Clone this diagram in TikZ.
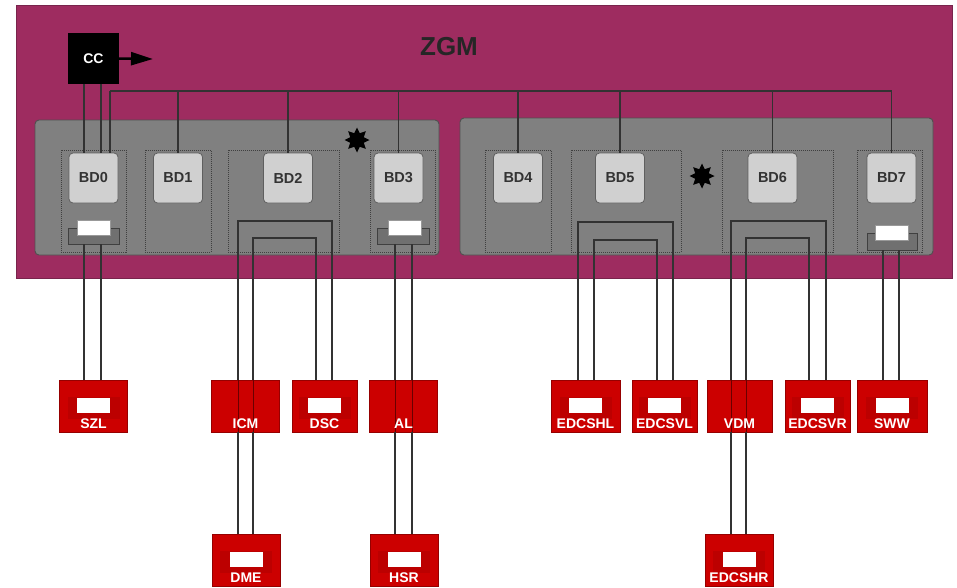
\documentclass[tikz,border=0pt]{standalone}
\usepackage{fontspec}
\setmainfont{Liberation Sans}
\usetikzlibrary{shapes.geometric,arrows.meta,calc}
\definecolor{zgmc}{RGB}{158,44,96}
\definecolor{zgmb}{RGB}{120,36,76}
\definecolor{panelc}{RGB}{128,128,128}
\definecolor{panelb}{RGB}{80,80,80}
\definecolor{bdc}{RGB}{208,208,208}
\definecolor{bdb}{RGB}{95,95,95}
\definecolor{redc}{RGB}{204,0,0}
\definecolor{redb}{RGB}{150,0,0}
\definecolor{redin}{RGB}{188,0,0}
\definecolor{wirec}{RGB}{50,50,50}
\definecolor{brkc}{RGB}{112,112,112}
\tikzset{
  bdbox/.style={draw=bdb, fill=bdc, rounded corners=4pt, line width=0.8pt, minimum width=49pt, minimum height=50pt, inner sep=0pt, font=\bfseries\fontsize{14.5}{14.5}\selectfont, text=black!80},
  subbox/.style={draw=black!75, dash pattern=on 1pt off 1pt, line width=0.7pt, minimum height=102pt, inner sep=0pt},
  panel/.style={draw=panelb, fill=panelc, rounded corners=4pt, line width=0.9pt, inner sep=0pt},
  redbox/.style={draw=redb, fill=redc, line width=0.8pt, minimum width=68pt, minimum height=52pt, inner sep=0pt},
  rlabel/.style={text=white, font=\bfseries\fontsize{14}{14}\selectfont, inner sep=0pt},
  wrect/.style={fill=white, draw=black!40, line width=0.3pt, minimum width=33pt, minimum height=15pt, inner sep=0pt},
  rbrk/.style={fill=redin, minimum width=52pt, minimum height=22pt, inner sep=0pt},
  gbrk/.style={fill=brkc, draw=black!75, line width=0.8pt, minimum height=16pt, inner sep=0pt},
  wire/.style={draw=wirec, line width=1.3pt},
  wirein/.style={draw=redb!70!black, line width=1pt},
  burst/.style={star, star points=8, star point ratio=1.7, fill=black, minimum size=25pt, inner sep=0pt}
}
\begin{document}
\begin{tikzpicture}[x=1pt,y=-1pt]
\useasboundingbox (0,0) rectangle (957,587);
\fill[white] (0,0) rectangle (957,587);
% ZGM frame
\node[draw=zgmb, fill=zgmc, line width=1pt, minimum width=936pt, minimum height=273pt, inner sep=0pt] (zgm) at (484,141.5) {};
\node[font=\bfseries\fontsize{26}{26}\selectfont, text=black!85] (zgmt) at (449,47) {ZGM};
% CC
\node[fill=black, minimum width=51pt, minimum height=51pt, inner sep=0pt, text=white, font=\bfseries\fontsize{14}{14}\selectfont] (cc) at (93.5,58.5) {CC};
\coordinate (ccout) at (153,59);
\draw[line width=2.5pt, -{Triangle[length=22pt,width=13pt]}] (cc.east) -- (ccout);
% panels
\node[panel, minimum width=404pt, minimum height=135pt] (pl) at (237,187.5) {};
\node[panel, minimum width=473pt, minimum height=137pt] (pr) at (696.5,186.5) {};
% sub boxes
\node[subbox, minimum width=65pt] (s0) at (93.5,201) {};
\node[subbox, minimum width=66pt] (s1) at (178,201) {};
\node[subbox, minimum width=111pt] (s2) at (283.5,201) {};
\node[subbox, minimum width=65pt] (s3) at (402.5,201) {};
\node[subbox, minimum width=66pt] (s4) at (518,201) {};
\node[subbox, minimum width=110pt] (s5) at (626,201) {};
\node[subbox, minimum width=111pt] (s6) at (777.5,201) {};
\node[subbox, minimum width=65pt] (s7) at (889.5,201) {};
% BD boxes
\node[bdbox] (bd0) at (93.5,178) {BD0};
\node[bdbox] (bd1) at (178,178) {BD1};
\node[bdbox] (bd2) at (288,178) {BD2};
\node[bdbox] (bd3) at (398.5,178) {BD3};
\node[bdbox] (bd4) at (518,178) {BD4};
\node[bdbox] (bd5) at (620,178) {BD5};
\node[bdbox] (bd6) at (772.5,178) {BD6};
\node[bdbox] (bd7) at (891.5,178) {BD7};
% stars
\node[burst] (st1) at (357,140) {};
\node[burst] (st2) at (702,176) {};
% brackets in BD0, BD3, BD7
\node[gbrk, minimum width=51pt] (g0) at (93.5,236) {};
\node[wrect] (w0) at (93.5,228) {};
\node[gbrk, minimum width=52pt] (g3) at (403,236) {};
\node[wrect] (w3) at (404.5,228) {};
\node[gbrk, minimum width=50pt, minimum height=17pt] (g7) at (892,241.5) {};
\node[wrect] (w7) at (891.5,233) {};
% bus
\coordinate (busL) at (110,91);
\coordinate (busR) at (891.5,91);
\draw[wire] (busL) -- (busR);
\draw[wire] (busL) -- (busL |- bd0.north);
\draw[wire] (busR) -- (bd7.north);
\foreach \b in {bd1,bd2,bd3,bd4,bd5,bd6} \draw[wire] (\b.north |- busL) -- (\b.north);
\draw[wire] (84,0 |- cc.south) -- (84,0 |- bd0.north);
\draw[wire] (101,0 |- cc.south) -- (101,0 |- bd0.north);
% red boxes row 1
\node[redbox] (szl) at (93.5,406) {};
\node[redbox] (icm) at (245.5,406) {};
\node[redbox, minimum width=65pt] (dsc) at (324.5,406) {};
\node[redbox] (al) at (403.5,406) {};
\node[redbox, minimum width=69pt] (edcshl) at (585.5,406) {};
\node[redbox, minimum width=65pt] (edcsvl) at (664.5,406) {};
\node[redbox, minimum width=65pt] (vdm) at (739.5,406) {};
\node[redbox, minimum width=65pt] (edcsvr) at (817.5,406) {};
\node[redbox, minimum width=70pt] (sww) at (892,406) {};
% row 2
\node[redbox] (dme) at (246,560) {};
\node[redbox] (hsr) at (404,560) {};
\node[redbox] (edcshr) at (739,560) {};
% inner brackets and white rects
\foreach \r in {szl,dsc,edcshl,edcsvl,edcsvr,sww,dme,hsr,edcshr} {
  \node[rbrk] at ($(\r.north)+(0,28)$) {};
  \node[wrect, draw=none] at ($(\r.north)+(0,25.5)$) {};
}
% BD0 -> SZL
\draw[wire] (84,0 |- g0.south) -- (84,0 |- szl.north);
\draw[wire] (101,0 |- g0.south) -- (101,0 |- szl.north);
% BD3 -> AL -> HSR
\foreach \x in {395,412} {
  \draw[wire] (\x,0 |- g3.south) -- (\x,0 |- al.north);
  \draw[wirein] (\x,0 |- al.north) -- (\x,0 |- al.south);
  \draw[wire] (\x,0 |- al.south) -- (\x,0 |- hsr.north);
}
% BD7 -> SWW
\draw[wire] (883,0 |- g7.south) -- (883,0 |- sww.north);
\draw[wire] (899,0 |- g7.south) -- (899,0 |- sww.north);
% BD2 U brackets
\coordinate (u2a) at (238,221);
\coordinate (u2b) at (332,221);
\coordinate (u2c) at (253,238);
\coordinate (u2d) at (316,238);
\draw[wire] (u2a |- icm.north) -- (u2a) -- (u2b) -- (u2b |- dsc.north);
\draw[wire] (u2c |- icm.north) -- (u2c) -- (u2d) -- (u2d |- dsc.north);
\foreach \c in {u2a,u2c} {
  \draw[wirein] (\c |- icm.north) -- (\c |- icm.south);
  \draw[wire] (\c |- icm.south) -- (\c |- dme.north);
}
% BD5 U brackets
\coordinate (u5a) at (578,222);
\coordinate (u5b) at (673,222);
\coordinate (u5c) at (594,240);
\coordinate (u5d) at (657,240);
\draw[wire] (u5a |- edcshl.north) -- (u5a) -- (u5b) -- (u5b |- edcsvl.north);
\draw[wire] (u5c |- edcshl.north) -- (u5c) -- (u5d) -- (u5d |- edcsvl.north);
% BD6 U brackets
\coordinate (u6a) at (731,221);
\coordinate (u6b) at (826,221);
\coordinate (u6c) at (746,238);
\coordinate (u6d) at (809,238);
\draw[wire] (u6a |- vdm.north) -- (u6a) -- (u6b) -- (u6b |- edcsvr.north);
\draw[wire] (u6c |- vdm.north) -- (u6c) -- (u6d) -- (u6d |- edcsvr.north);
\foreach \c in {u6a,u6c} {
  \draw[wirein] (\c |- vdm.north) -- (\c |- vdm.south);
  \draw[wire] (\c |- vdm.south) -- (\c |- edcshr.north);
}
% labels
\node[rlabel] (lszl) at ($(szl.south)+(0,-8.5)$) {SZL};
\node[rlabel] (licm) at ($(icm.south)+(0,-8.5)$) {ICM};
\node[rlabel] (ldsc) at ($(dsc.south)+(0,-8.5)$) {DSC};
\node[rlabel] (lal) at ($(al.south)+(0,-8.5)$) {AL};
\node[rlabel] (ledcshl) at ($(edcshl.south)+(0,-8.5)$) {EDCSHL};
\node[rlabel] (ledcsvl) at ($(edcsvl.south)+(0,-8.5)$) {EDCSVL};
\node[rlabel] (lvdm) at ($(vdm.south)+(0,-8.5)$) {VDM};
\node[rlabel] (ledcsvr) at ($(edcsvr.south)+(0,-8.5)$) {EDCSVR};
\node[rlabel] (lsww) at ($(sww.south)+(0,-8.5)$) {SWW};
\node[rlabel] (ldme) at ($(dme.south)+(0,-8.5)$) {DME};
\node[rlabel] (lhsr) at ($(hsr.south)+(0,-8.5)$) {HSR};
\node[rlabel] (ledcshr) at ($(edcshr.south)+(0,-8.5)$) {EDCSHR};
\end{tikzpicture}
\end{document}
